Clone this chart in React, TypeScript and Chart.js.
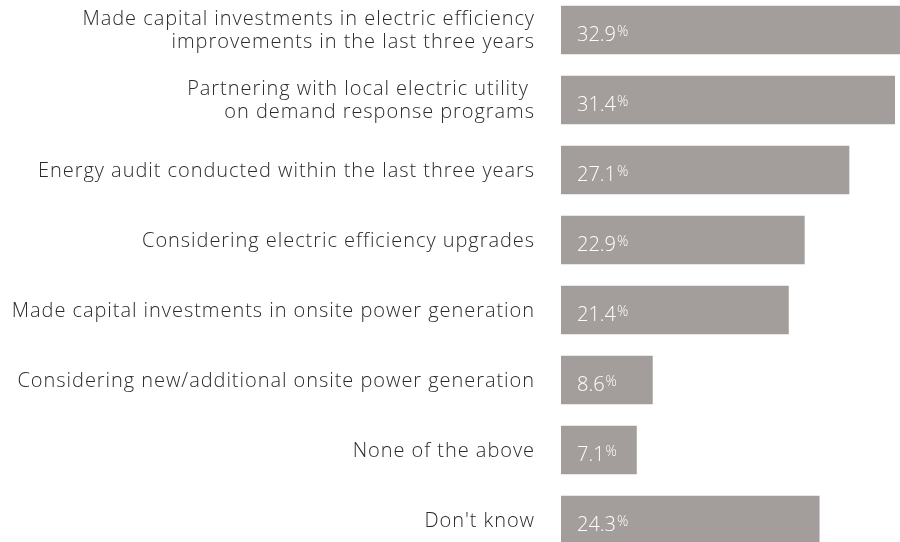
import React, { useEffect, useRef } from "react";
import { Chart, registerables } from "chart.js";

Chart.register(...registerables);

const categories: (string | string[])[] = [
  ["Made capital investments in electric efficiency", "improvements in the last three years"],
  ["Partnering with local electric utility ", "on demand response programs"],
  "Energy audit conducted within the last three years",
  "Considering electric efficiency upgrades",
  "Made capital investments in onsite power generation",
  "Considering new/additional onsite power generation",
  "None of the above",
  "Don't know",
];

const values: number[] = [32.9, 31.4, 27.1, 22.9, 21.4, 8.6, 7.1, 24.3];

const BAR_COLOR = "#a39e9b";
const TEXT_COLOR = "#2b2b2b";
const FONT = "'Open Sans', Lato, sans-serif";
const VALUE_FONT = "'Open Sans', Lato, sans-serif";

const letterSpacing = {
  id: "letterSpacing",
  beforeDraw(chart: any) {
    (chart.ctx as any).letterSpacing = "0.95px";
  },
};

const valueLabels = {
  id: "valueLabels",
  afterDatasetsDraw(chart: any) {
    const ctx = chart.ctx;
    const meta = chart.getDatasetMeta(0);
    ctx.save();
    (ctx as any).letterSpacing = "0px";
    meta.data.forEach((el: any, i: number) => {
      const v = values[i].toFixed(1);
      const x = el.base + 16;
      const y = el.y;
      ctx.fillStyle = "#ffffff";
      ctx.textAlign = "left";
      ctx.textBaseline = "alphabetic";
      ctx.font = `300 20px ${VALUE_FONT}`;
      ctx.fillText(v, x, y + 11);
      const w = ctx.measureText(v).width;
      ctx.font = `300 14px ${VALUE_FONT}`;
      ctx.fillText("%", x + w + 1, y + 6);
    });
    ctx.restore();
  },
};

export default function App() {
  const ref = useRef<HTMLCanvasElement | null>(null);
  useEffect(() => {
    if (!ref.current) return;
    const chart = new Chart(ref.current, {
      type: "bar",
      data: {
        labels: categories,
        datasets: [
          {
            data: values,
            backgroundColor: BAR_COLOR,
            borderWidth: 0,
            barThickness: 48,
          },
        ],
      },
      options: {
        indexAxis: "y",
        animation: false,
        responsive: false,
        maintainAspectRatio: false,
        layout: { padding: 0 },
        plugins: {
          legend: { display: false },
          tooltip: { enabled: false },
          title: { display: false },
        },
        scales: {
          x: {
            display: false,
            min: 0,
            max: 31.9,
          },
          y: {
            grid: { display: false, drawTicks: false },
            border: { display: false },
            ticks: {
              color: TEXT_COLOR,
              padding: 26,
              labelOffset: 1,
              font: { family: FONT, size: 20, weight: "300", lineHeight: 1.15 },
              autoSkip: false,
            },
            afterFit: (scale: any) => {
              scale.width = 561;
              scale.paddingTop = 0;
              scale.paddingBottom = 0;
            },
          },
        },
      },
      plugins: [letterSpacing, valueLabels],
    });
    return () => chart.destroy();
  }, []);
  return (
    <div style={{ position: "fixed", left: 0, top: -5, width: 900, height: 560, background: "#fff" }}>
      <canvas ref={ref} width={900} height={560} style={{ width: 900, height: 560, display: "block" }} />
    </div>
  );
}
